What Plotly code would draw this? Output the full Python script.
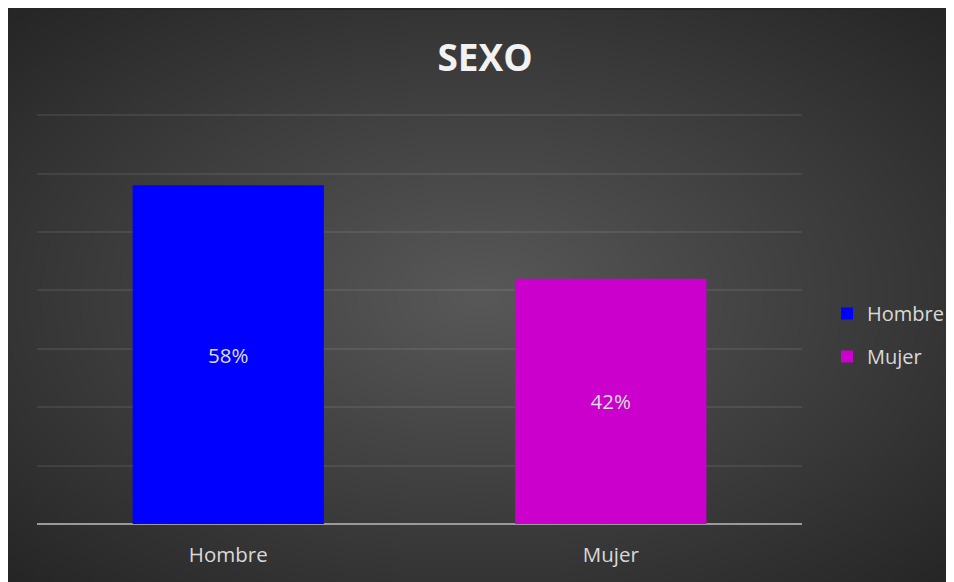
import numpy as np
import plotly.graph_objects as go

# Dati
categorias = ["Hombre", "Mujer"]
porcentajes = [58, 42]
colores = ["#0000FF", "#CC00CC"]
titulo = "SEXO"

# la pagina html ha un margine di 8px: la figura parte da (8, 8)
W, H = 946, 574
FONT = "Open Sans"


def py(y_page):
    """Converte una y in pixel della pagina in frazione paper."""
    return (H - (y_page - 8)) / H


def px(x_page):
    return (x_page - 8) / W


fig = go.Figure()

# Sfondo: gradiente radiale (solo stile, non dati)
gx = np.linspace(0, 946, 80)
gy = np.linspace(0, 572, 50)
GX, GY = np.meshgrid(gx, gy)
cx, cy = 473, 286
d = np.sqrt(((GX - cx) / cx) ** 2 + ((GY - cy) / cy) ** 2) / np.sqrt(2)
fig.add_trace(go.Heatmap(
    x=gx, y=gy, z=np.clip(d, 0, 1),
    colorscale=[[0, "#585858"], [1, "#252525"]],
    zmin=0, zmax=1, zsmooth="best", showscale=False,
    hoverinfo="skip", xaxis="x", yaxis="y",
))

# Barre
for cat, val, col in zip(categorias, porcentajes, colores):
    fig.add_trace(go.Bar(
        x=[cat], y=[val], name=cat,
        marker=dict(color=col, line=dict(width=0)),
        text=[f"{val}%"], textposition="inside",
        insidetextanchor="middle", textangle=0,
        textfont=dict(family=FONT, size=20.5, color="#dcdcdc"),
        legendgroup=cat,
        xaxis="x2", yaxis="y2",
    ))

ymax = 70.5
y_top = 524 - ymax * 5.84

fig.update_layout(
    width=W, height=H,
    margin=dict(l=0, r=0, t=0, b=0),
    paper_bgcolor="#262626",
    plot_bgcolor="rgba(0,0,0,0)",
    barmode="overlay",
    bargap=0.5,
    title=dict(
        text=f"<b>{titulo}</b>",
        x=px(485), xanchor="center",
        y=py(58), yanchor="middle",
        font=dict(family=FONT, size=37, color="#f2f2f2"),
    ),
    xaxis=dict(domain=[0, 1], range=[0, 946], visible=False,
               fixedrange=True),
    yaxis=dict(domain=[0, 572 / H], range=[572, 0], visible=False,
               fixedrange=True),
    xaxis2=dict(domain=[px(37), px(802)], anchor="y2",
                showgrid=False, showline=False, ticks="",
                ticklabelstandoff=16,
                tickfont=dict(family=FONT, size=20.5, color="#d9d9d9")),
    yaxis2=dict(domain=[py(524), py(y_top)], anchor="x2",
                range=[0, ymax], dtick=10, showticklabels=False,
                showgrid=True, gridcolor="rgba(255,255,255,0.08)",
                gridwidth=2,
                zeroline=True, zerolinecolor="#9a9a9a", zerolinewidth=2),
    legend=dict(
        x=px(827), xanchor="left",
        y=py(335), yanchor="middle",
        traceorder="grouped", tracegroupgap=14,
        bgcolor="rgba(0,0,0,0)",
        font=dict(family=FONT, size=20, color="#d9d9d9"),
        itemwidth=30,
    ),
    showlegend=True,
)

fig.write_html("out.html")
